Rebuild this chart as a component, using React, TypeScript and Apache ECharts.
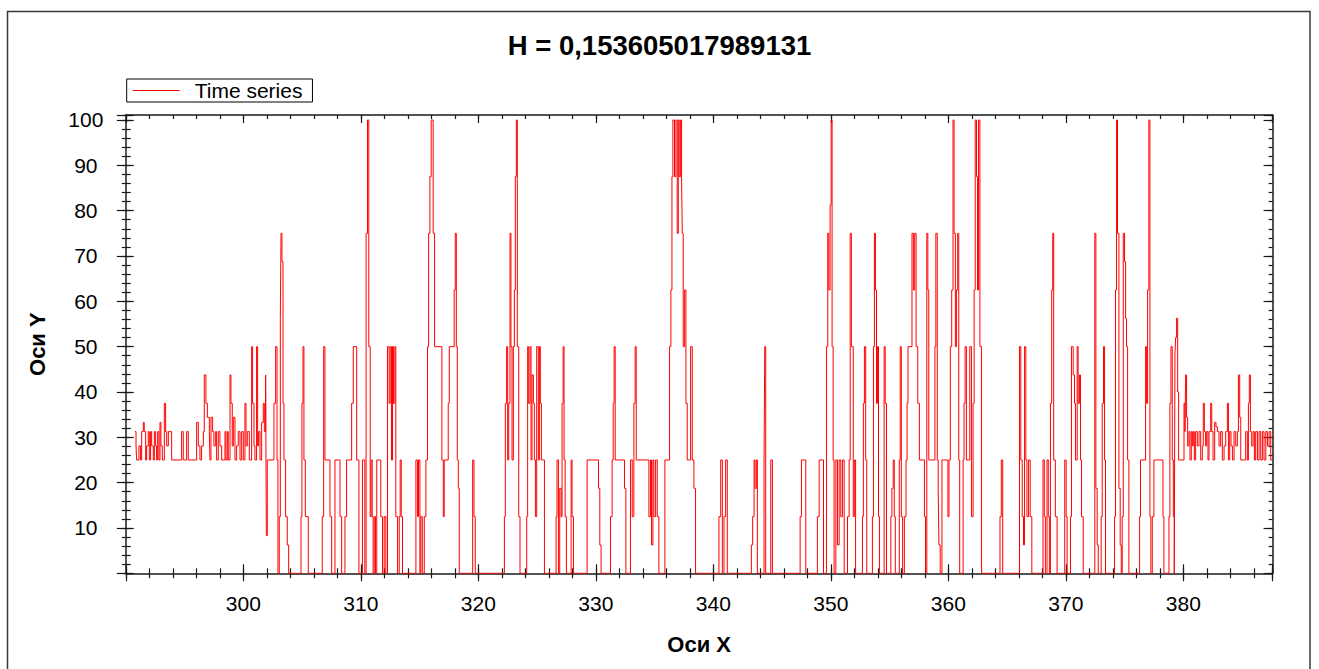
import { useEffect, useRef } from "react";
import * as echarts from "echarts";

const TITLE = "H = 0,153605017989131";
const SERIES_NAME = "Time series";
const X_NAME = "Оси X";
const Y_NAME = "Оси Y";

const X_MIN = 290;
const X_MAX = 387.6;
const Y_MIN = 0;
const Y_MAX = 101.1;
const X_TICK_LABELS = [300, 310, 320, 330, 340, 350, 360, 370, 380];
const Y_TICK_LABELS = [10, 20, 30, 40, 50, 60, 70, 80, 90, 100];

// [x where the level starts, level]
const partA: [number, number][] = [
  [290.78, 31.25], [290.87, 28.1], [290.92, 25], [291.12, 28.1], [291.26, 25], [291.35, 31.25], [291.49, 33.3],
  [291.57, 31.25], [291.69, 25], [291.77, 28.1], [291.91, 31.25], [292.0, 25], [292.11, 31.25], [292.2, 28.1],
  [292.34, 25], [292.43, 31.25], [292.54, 28.1], [292.62, 25], [292.71, 31.25], [292.82, 25], [292.91, 33.3],
  [292.99, 28.1], [293.11, 25], [293.28, 37.5], [293.39, 31.25], [293.48, 28.1], [293.62, 31.25], [293.9, 25],
  [294.75, 31.25], [294.89, 25], [295.18, 31.25], [295.32, 25], [296.03, 33.3], [296.17, 28.1], [296.31, 25],
  [296.45, 28.1], [296.6, 31.25], [296.68, 43.75], [296.82, 37.5], [296.94, 34.4], [297.11, 31.25], [297.16, 25],
  [297.25, 34.4], [297.39, 31.25], [297.5, 28.1], [297.65, 31.25], [297.73, 25], [297.87, 31.25], [298.01, 28.1],
  [298.16, 25], [298.44, 31.25], [298.52, 25], [298.64, 31.25], [298.72, 25], [298.87, 43.75], [298.95, 37.5],
  [299.06, 28.1], [299.15, 34.4], [299.29, 25], [299.43, 28.1], [299.57, 31.25], [299.72, 25], [299.86, 31.25],
  [300.0, 25], [300.14, 37.5], [300.23, 28.1], [300.34, 31.25], [300.51, 25], [300.71, 50], [300.79, 37.5],
  [300.91, 28.1], [300.99, 25], [301.13, 50], [301.22, 28.1], [301.3, 31.25], [301.42, 25], [301.56, 33.3],
  [301.7, 37.5], [301.79, 31.25], [301.9, 43.75], [301.96, 8.3], [302.04, 25],
];

const partB: [number, number][] = [
  [302.61, 37.5], [302.75, 50], [302.87, 25], [302.95, 0], [303.06, 12.5], [303.15, 56.25], [303.21, 75],
  [303.29, 68.75], [303.38, 37.5], [303.46, 25], [303.6, 12.5], [303.74, 6.25], [303.86, 0], [304.91, 12.5],
  [304.99, 37.5], [305.08, 50], [305.16, 25], [305.28, 12.5], [305.53, 0], [306.72, 12.5], [306.84, 50],
  [306.95, 25], [307.38, 12.5], [307.52, 0], [307.8, 25], [308.23, 12.5], [308.37, 0], [308.65, 12.5],
  [308.79, 25], [309.22, 37.5], [309.36, 50], [309.65, 25], [309.84, 0],
];

const partC: [number, number][] = [
  [310.14, 25], [310.34, 0], [310.45, 75], [310.57, 100], [310.68, 50], [310.8, 12.5], [310.88, 25],
  [310.97, 12.5], [311.05, 0], [311.14, 12.5], [311.25, 0], [311.36, 25], [311.7, 12.5], [311.85, 0],
  [311.99, 12.5], [312.13, 0], [312.27, 50], [312.41, 37.5], [312.5, 50], [312.61, 25], [312.7, 50],
  [312.78, 37.5], [312.9, 50], [312.98, 12.5], [313.13, 0], [313.27, 12.5], [313.35, 25], [313.44, 12.5],
  [313.55, 0], [314.69, 25], [314.83, 12.5], [314.91, 25], [315.03, 0], [315.11, 12.5], [315.23, 0],
  [315.4, 12.5], [315.54, 25], [315.68, 50], [315.77, 75], [315.88, 87.5], [315.99, 100], [316.16, 75],
  [316.28, 50], [316.9, 25], [317.02, 12.5], [317.1, 25], [317.44, 37.5], [317.53, 50], [317.95, 62.5],
  [318.04, 75], [318.13, 50], [318.21, 25], [318.3, 18.75], [318.38, 0], [319.52, 25], [319.63, 12.5],
  [319.74, 0],
];

const partD: [number, number][] = [
  [322.22, 12.5], [322.3, 37.5], [322.41, 50], [322.5, 25], [322.59, 37.5], [322.7, 75], [322.78, 50],
  [322.87, 25], [322.98, 50], [323.07, 62.5], [323.15, 87.5], [323.24, 100], [323.32, 50], [323.44, 12.5],
  [323.55, 0], [324.12, 12.5], [324.2, 50], [324.29, 37.5], [324.4, 50], [324.49, 25], [324.57, 43.75],
  [324.69, 37.5], [324.77, 25], [324.86, 12.5], [324.97, 50], [325.11, 25], [325.2, 50], [325.28, 37.5],
  [325.37, 25], [325.63, 0], [326.62, 12.5], [326.7, 25], [326.82, 0], [326.93, 18.75], [327.05, 12.5],
  [327.13, 37.5], [327.22, 50], [327.3, 25], [327.39, 12.5], [327.5, 0], [327.9, 25], [327.98, 12.5],
  [328.1, 0], [329.26, 25], [330.23, 18.75], [330.34, 6.25], [330.45, 0],
];

const partE: [number, number][] = [
  [331.25, 12.5], [331.39, 25], [331.48, 37.5], [331.56, 50], [331.65, 25], [332.44, 18.75], [332.56, 0],
  [332.95, 25], [333.1, 12.5], [333.24, 37.5], [333.35, 50], [333.44, 25], [334.52, 12.5], [334.66, 25],
  [334.74, 6.25], [334.86, 25], [334.94, 12.5], [335.09, 25], [335.23, 12.5], [335.37, 0], [335.88, 25],
  [336.28, 50], [336.39, 62.5], [336.48, 87.5], [336.56, 100], [336.7, 87.5], [336.82, 100], [336.93, 75],
  [337.02, 100], [337.1, 87.5], [337.22, 100], [337.3, 87.5], [337.36, 75], [337.44, 50], [337.56, 62.5],
  [337.67, 37.5], [337.78, 25], [338.07, 50], [338.21, 25], [338.35, 18.75], [338.49, 0], [340.48, 12.5],
  [340.63, 25], [340.77, 0], [340.91, 12.5], [341.05, 25], [341.19, 0], [343.24, 6.25], [343.35, 12.5],
  [343.47, 25], [343.55, 18.75], [343.66, 25], [343.75, 0], [344.32, 25], [344.38, 50], [344.46, 0],
  [344.89, 25], [345.03, 0], [347.39, 12.5], [347.5, 25], [347.87, 0], [348.86, 12.5], [349.01, 25],
  [349.38, 0], [349.63, 50], [349.74, 75], [349.83, 62.5], [349.94, 81.25], [350.03, 100], [350.11, 50],
  [350.2, 25], [350.28, 0], [350.43, 25], [350.57, 6.25], [350.71, 25], [350.85, 12.5], [350.99, 25],
  [351.14, 0], [351.42, 12.5], [351.56, 25], [351.65, 75], [351.75, 50], [351.91, 12.5], [352.0, 25],
  [352.11, 0],
];

const partF: [number, number][] = [
  [352.69, 12.5], [352.77, 37.5], [352.86, 50], [352.97, 25], [353.06, 0], [353.54, 12.5], [353.63, 50],
  [353.71, 75], [353.8, 62.5], [353.89, 37.5], [353.97, 50], [354.06, 12.5], [354.14, 0], [354.54, 50],
  [354.63, 37.5], [354.74, 0], [355.11, 12.5], [355.2, 18.75], [355.31, 25], [355.4, 12.5], [355.49, 0],
  [355.83, 25], [355.91, 50], [356.0, 12.5], [356.11, 0], [356.26, 12.5], [356.4, 25], [356.49, 37.5],
  [356.57, 50], [356.91, 75], [357.03, 62.5], [357.14, 75], [357.26, 50], [357.4, 37.5], [357.54, 25],
  [357.97, 12.5], [358.06, 0], [358.17, 75], [358.26, 62.5], [358.34, 25], [358.86, 50], [358.94, 75],
  [359.06, 25], [359.14, 18.75], [359.2, 6.25], [359.31, 0], [359.46, 25], [359.97, 12.5], [360.06, 25],
  [360.17, 50], [360.29, 62.5], [360.4, 100], [360.49, 75], [360.6, 50], [360.69, 62.5], [360.8, 75],
  [360.89, 25], [360.97, 0], [361.26, 25], [361.34, 37.5], [361.43, 50], [361.54, 25], [361.83, 50],
  [361.97, 12.5], [362.11, 37.5], [362.2, 62.5], [362.29, 100], [362.4, 87.5], [362.49, 62.5], [362.57, 100],
  [362.69, 50], [362.83, 0], [364.4, 12.5], [364.51, 25], [364.63, 0], [366.06, 50], [366.17, 25],
  [366.29, 12.5], [366.4, 6.25], [366.49, 50], [366.6, 25], [366.69, 12.5], [366.83, 25], [366.97, 12.5],
  [367.11, 0], [368.06, 25], [368.17, 12.5], [368.26, 0], [368.4, 25], [368.51, 12.5], [368.6, 0],
  [368.69, 37.5], [368.8, 62.5], [368.89, 75], [368.97, 25], [369.11, 12.5], [369.26, 0], [369.91, 25],
  [370.03, 12.5], [370.11, 0],
];

const partG: [number, number][] = [
  [370.4, 12.5], [370.48, 50], [370.63, 43.75], [370.74, 37.5], [370.82, 25], [370.97, 50], [371.05, 37.5],
  [371.16, 43.75], [371.25, 25], [371.34, 12.5], [371.48, 0], [372.47, 75], [372.56, 18.75], [372.67, 6.25],
  [372.76, 0], [373.01, 12.5], [373.1, 37.5], [373.21, 50], [373.3, 25], [373.38, 0], [374.15, 12.5],
  [374.23, 62.5], [374.32, 100], [374.4, 75], [374.52, 18.75], [374.63, 6.25], [374.72, 0], [374.8, 12.5],
  [374.89, 75], [375.0, 68.75], [375.09, 56.25], [375.17, 50], [375.26, 25], [375.37, 0], [376.28, 12.5],
  [376.36, 25], [376.79, 50], [376.88, 37.5], [376.96, 62.5], [377.07, 100], [377.16, 12.5], [377.24, 0],
  [377.36, 12.5], [377.5, 25], [378.27, 12.5], [378.35, 0], [378.78, 12.5], [378.86, 37.5], [378.95, 50],
  [379.06, 25], [379.15, 12.5], [379.23, 0], [379.29, 48.4], [379.35, 52], [379.43, 56.25], [379.52, 40],
  [379.6, 25],
];

const partH: [number, number][] = [
  [380.06, 37.5], [380.14, 31.25], [380.2, 43.75], [380.28, 34.4], [380.37, 28.1], [380.48, 31.25],
  [380.57, 25], [380.68, 31.25], [380.77, 28.1], [380.85, 31.25], [380.94, 25], [381.05, 31.25],
  [381.19, 28.1], [381.34, 31.25], [381.48, 25], [381.62, 28.1], [381.7, 37.5], [381.79, 31.25],
  [381.9, 28.1], [381.99, 31.25], [382.1, 25], [382.19, 31.25], [382.33, 37.5], [382.42, 31.25],
  [382.53, 25], [382.67, 33.3], [382.78, 32.3], [382.9, 31.25], [383.04, 28.1], [383.18, 31.25],
  [383.32, 25], [383.47, 28.1], [383.61, 31.25], [383.75, 37.5], [383.84, 25], [383.95, 31.25],
  [384.06, 28.1], [384.18, 25], [384.32, 31.25], [384.46, 28.1], [384.6, 31.25], [384.69, 43.75],
  [384.8, 34.4], [384.89, 25], [385.31, 31.25], [385.45, 25], [385.54, 37.5], [385.62, 43.75],
  [385.71, 31.25], [385.82, 28.1], [385.94, 31.25], [386.05, 25], [386.16, 31.25], [386.31, 25],
  [386.45, 31.25], [386.59, 25], [386.73, 31.25], [386.87, 25], [387.02, 31.25], [387.16, 28.1],
  [387.3, 31.25], [387.44, 25], [387.55, 25],
];

const FONT = "'Liberation Sans', Arial, Helvetica, sans-serif";
const INK = "#1a1a1a";
const RED = "#ff0000";

function tickAxis(position: string, min: number, max: number, interval: number, inside: boolean, length: number, line = false) {
  return {
    type: "value",
    position,
    min,
    max,
    interval,
    axisLine: { show: line, onZero: false, lineStyle: { color: INK, width: 1.5 } },
    axisTick: { show: true, inside, length, lineStyle: { color: INK, width: 1.2 } },
    axisLabel: { show: false },
    splitLine: { show: false },
    silent: true,
  };
}

export default function App() {
  const ref = useRef<HTMLDivElement | null>(null);

  useEffect(() => {
    if (!ref.current) return;
    const chart = echarts.init(ref.current, null, { renderer: "svg" });
    const data = [...partA, ...partB, ...partC, ...partD, ...partE, ...partF, ...partG, ...partH];

    chart.setOption({
      animation: false,
      backgroundColor: "#ffffff",
      title: {
        text: TITLE,
        left: "center",
        top: 31,
        padding: 0,
        textStyle: { fontFamily: FONT, fontSize: 27.5, fontWeight: "bold", color: "#000" },
      },
      legend: {
        data: [{ name: SERIES_NAME, icon: "rect" }],
        left: 126.7,
        top: 79,
        orient: "horizontal",
        padding: [1, 10, 1, 6],
        itemWidth: 47,
        itemHeight: 1,
        borderColor: "#000",
        borderWidth: 1,
        borderRadius: 0,
        backgroundColor: "#fff",
        selectedMode: false,
        itemStyle: { color: RED, borderWidth: 0 },
        textStyle: { fontFamily: FONT, fontSize: 21, color: "#000", padding: [0, 0, 0, 10] },
      },
      graphic: [
        {
          type: "rect",
          silent: true,
          z: -10,
          shape: { x: 7.5, y: 11.5, width: 1302.5, height: 700 },
          style: { fill: "none", stroke: "#3a3a3a", lineWidth: 1.5 },
        },
      ],
      grid: {
        left: 125.8,
        right: 46.4,
        top: 115,
        bottom: 95.7,
        containLabel: false,
        outerBoundsMode: "none",
      },
      xAxis: [
        {
          type: "value",
          position: "bottom",
          min: X_MIN,
          max: X_MAX,
          interval: 10,
          axisLine: { show: true, onZero: false, lineStyle: { color: INK, width: 1.5 } },
          axisTick: { show: true, inside: true, length: 9, lineStyle: { color: INK, width: 1.2 } },
          axisLabel: {
            show: true,
            margin: 20,
            fontFamily: FONT,
            fontSize: 21,
            color: "#000",
            formatter: (v: number) => (X_TICK_LABELS.includes(Math.round(v * 1000) / 1000) ? String(v) : ""),
          },
          splitLine: { show: false },
          name: X_NAME,
          nameLocation: "middle",
          nameGap: 60,
          nameTextStyle: { fontFamily: FONT, fontSize: 22, fontWeight: "bold", color: "#000" },
        },
        tickAxis("bottom", X_MIN, X_MAX, 10, false, 8),
        tickAxis("bottom", X_MIN, X_MAX, 2, true, 5),
        tickAxis("bottom", X_MIN, X_MAX, 2, false, 5),
        tickAxis("top", X_MIN, X_MAX, 10, true, 8, true),
        tickAxis("top", X_MIN, X_MAX, 2, true, 4),
      ],
      yAxis: [
        {
          type: "value",
          position: "left",
          min: Y_MIN,
          max: Y_MAX,
          interval: 10,
          axisLine: { show: true, onZero: false, lineStyle: { color: INK, width: 1.5 } },
          axisTick: { show: true, inside: true, length: 8, lineStyle: { color: INK, width: 1.2 } },
          axisLabel: {
            show: true,
            margin: 40,
            align: "center",
            fontFamily: FONT,
            fontSize: 21,
            color: "#000",
            formatter: (v: number) => (Y_TICK_LABELS.includes(Math.round(v * 1000) / 1000) ? String(v) : ""),
          },
          splitLine: { show: false },
          name: Y_NAME,
          nameLocation: "middle",
          nameGap: 77,
          nameRotate: 90,
          nameTextStyle: { fontFamily: FONT, fontSize: 22, fontWeight: "bold", color: "#000" },
        },
        tickAxis("left", Y_MIN, Y_MAX, 10, false, 9),
        tickAxis("left", Y_MIN, Y_MAX, 2, true, 5),
        tickAxis("left", Y_MIN, Y_MAX, 2, false, 4),
        tickAxis("right", Y_MIN, Y_MAX, 10, true, 9, true),
        tickAxis("right", Y_MIN, Y_MAX, 2, true, 4),
      ],
      series: [
        {
          name: SERIES_NAME,
          type: "line",
          xAxisIndex: 0,
          yAxisIndex: 0,
          step: "end",
          data,
          symbol: "none",
          showSymbol: false,
          clip: true,
          color: RED,
          itemStyle: { color: RED },
          lineStyle: { color: RED, width: 1 },
          emphasis: { disabled: true },
        },
      ],
    });

    return () => {
      chart.dispose();
    };
  }, []);

  return (
    <div
      ref={ref}
      style={{ position: "fixed", left: 0, top: 0, width: 1319, height: 669, background: "#fff" }}
    />
  );
}
